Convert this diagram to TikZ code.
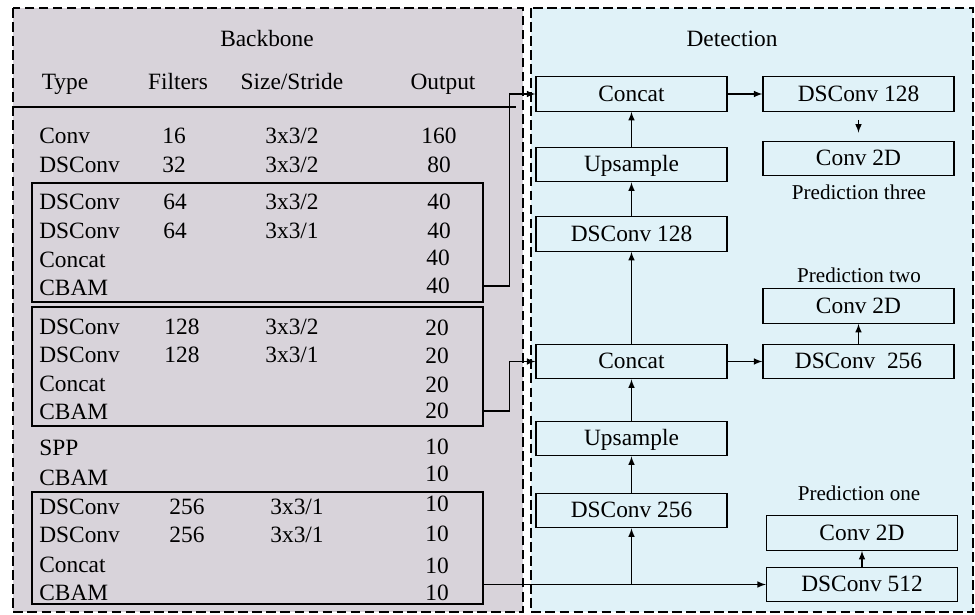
\documentclass[tikz,border=0pt]{standalone}
\usepackage{fontspec}
\setmainfont{Liberation Serif}
\definecolor{bbfill}{RGB}{216,211,218}
\definecolor{detfill}{RGB}{224,242,248}
\begin{document}
\begin{tikzpicture}[
    x=0.02cm, y=-0.02cm,
    every node/.style={font=\fontsize{13.3}{16}\selectfont, inner sep=0pt, text height=0.84em, text depth=0pt},
    tcell/.style={anchor=west},
    panel/.style={draw, line width=1pt, dash pattern=on 5.5pt off 2.5pt},
    grp/.style={draw, line width=0.7pt, minimum width=9.02cm},
    blk/.style={draw, line width=0.7pt, minimum width=3.82cm, minimum height=0.69cm},
    pred/.style={font=\fontsize{12}{14}\selectfont},
    arr/.style={->, >=latex, line width=0.7pt}
]
\useasboundingbox (0,0) rectangle (975,615);

% Backbone
\draw[panel, fill=bbfill] (13,8) rectangle (523,612);
\node (bbtitle) at (267,39) {Backbone};
\node (htype) at (65,82) {Type};
\node (hfilt) at (178,82) {Filters};
\node (hsize) at (292,82) {Size/Stride};
\node (hout) at (443,82) {Output};
\draw[line width=1.5pt] (13,107) -- (516,107);
% group boxes
\node[grp, minimum height=2.38cm] (g1) at (257.5,242.5) {};
\node[grp, minimum height=2.38cm] (g2) at (257.5,366.5) {};
\node[grp, minimum height=2.24cm] (g3) at (257.5,548) {};
% Rows 1-2
\node[tcell] (t1) at (39,136) {Conv};
\node (f1) at (174,136) {16};
\node (s1) at (292,136) {3x3/2};
\node (o1) at (439,136) {160};
\node[tcell] (t2) at (39,165) {DSConv};
\node (f2) at (174,165) {32};
\node (s2) at (292,165) {3x3/2};
\node (o2) at (439,165) {80};
% Rows 3-6 (first group)
\node[tcell] (t3) at (39,202) {DSConv};
\node (f3) at (175,202) {64};
\node (s3) at (292,202) {3x3/2};
\node (o3) at (439,202) {40};
\node[tcell] (t4) at (39,231) {DSConv};
\node (f4) at (175,231) {64};
\node (s4) at (292,231) {3x3/1};
\node (o4) at (439,231) {40};
\node[tcell] (t5) at (39,260) {Concat};
\node (o5) at (438,258) {40};
\node[tcell] (t6) at (39,288) {CBAM};
\node (o6) at (438,286) {40};
% Rows 7-10 (second group)
\node[tcell] (t7) at (39,327) {DSConv};
\node (f7) at (182,327) {128};
\node (s7) at (292,327) {3x3/2};
\node (o7) at (437,328) {20};
\node[tcell] (t8) at (39,355) {DSConv};
\node (f8) at (182,355) {128};
\node (s8) at (292,355) {3x3/1};
\node (o8) at (437,356) {20};
\node[tcell] (t9) at (39,384) {Concat};
\node (o9) at (437,385) {20};
\node[tcell] (t10) at (39,412) {CBAM};
\node (o10) at (437,411) {20};
% Rows 11-12
\node[tcell] (t11) at (39,448) {SPP};
\node (o11) at (437,447) {10};
\node[tcell] (t12) at (39,478) {CBAM};
\node (o12) at (437,474) {10};
% Rows 13-16 (third group)
\node[tcell] (t13) at (39,507) {DSConv};
\node (f13) at (187,507) {256};
\node (s13) at (297,507) {3x3/1};
\node (o13) at (437,504) {10};
\node[tcell] (t14) at (39,535) {DSConv};
\node (f14) at (187,535) {256};
\node (s14) at (297,535) {3x3/1};
\node (o14) at (437,534) {10};
\node[tcell] (t15) at (39,565) {Concat};
\node (o15) at (437,566) {10};
\node[tcell] (t16) at (39,593) {CBAM};
\node (o16) at (437,593) {10};

% Detection
\draw[panel, fill=detfill] (531,8) rectangle (973,612);
\node (dettitle) at (732,39) {Detection};
\node[blk] (cat1) at (631.5,94) {Concat};
\node[blk] (up1) at (631.5,164.5) {Upsample};
\node[blk] (dsc128l) at (631.5,234) {DSConv 128};
\node[blk] (cat2) at (631.5,361.5) {Concat};
\node[blk] (up2) at (631.5,438.5) {Upsample};
\node[blk] (dsc256l) at (631.5,510.5) {DSConv 256};
\node[blk] (dsc128r) at (858.5,94) {DSConv 128};
\node[blk] (c2d3) at (858.5,158.5) {Conv 2D};
\node[pred] (p3) at (859,192) {Prediction three};
\node[pred] (p2) at (859,275) {Prediction two};
\node[blk] (c2d2) at (858.5,306) {Conv 2D};
\node[blk] (dsc256r) at (858.5,361.5) {DSConv~~256};
\node[pred] (p1) at (859,493) {Prediction one};
\node[blk] (c2d1) at (862,533) {Conv 2D};
\node[blk] (dsc512) at (862,584.5) {DSConv 512};

% Arrows
\draw[arr] (up1) -- (cat1);
\draw[arr] (dsc128l) -- (up1);
\draw[arr] (cat2) -- (dsc128l);
\draw[arr] (up2) -- (cat2);
\draw[arr] (dsc256l) -- (up2);
\draw[arr] (cat1) -- (dsc128r);
\draw[arr, shorten <=4.5pt, shorten >=4.5pt] (dsc128r) -- (c2d3);
\draw[arr] (cat2) -- (dsc256r);
\draw[arr] (dsc256r) -- (c2d2);
\draw[arr] (dsc512) -- (c2d1);
\draw[arr] (g1.east |- o6) -- ++(26,0) |- (cat1.west);
\draw[arr] (g2.east |- o10) -- ++(26,0) |- (cat2.west);
\draw[arr] (g3.east |- dsc512.west) -- (dsc512.west);
\draw[arr] (dsc256l.south |- dsc512.west) -- (dsc256l.south);
\end{tikzpicture}
\end{document}
